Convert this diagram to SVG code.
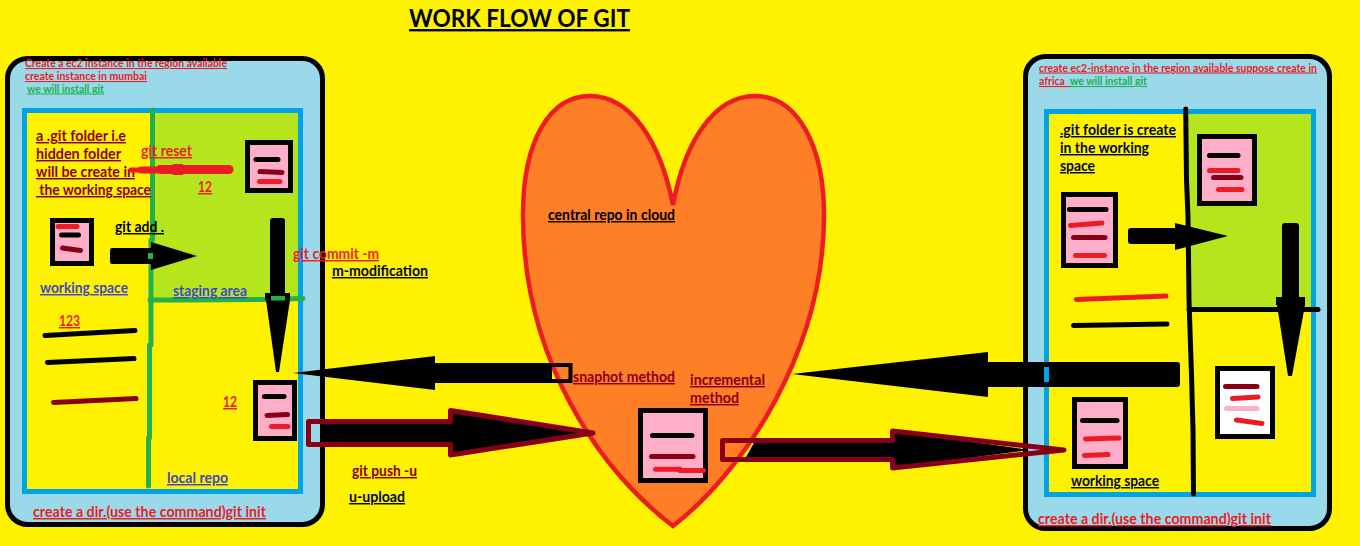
<svg xmlns="http://www.w3.org/2000/svg" width="1360" height="546" viewBox="0 0 1360 546">
<style>
text{font-family:Lato,"Liberation Sans",sans-serif;font-weight:700;font-size:14.5px;text-decoration:underline;white-space:pre}
.s{font-size:10.5px}
.r{fill:#ED1C24}.m{fill:#880015}.b{fill:#3F48CC}.g{fill:#22B14C}.k{fill:#000}.n{fill:#00082a}
.panel{fill:#99D9EA;stroke:#000;stroke-width:5}
.area{fill:#FFF200;stroke:#00A2E8;stroke-width:5}
.doc{fill:#FFAEC9;stroke:#000;stroke-width:5}
.w{fill:#fff}
line,polyline{fill:none;stroke-linecap:round;stroke-linejoin:round}
.l{stroke-width:5}
.kk{stroke:#000}.rr{stroke:#ED1C24}.mm{stroke:#880015}.pp{stroke:#FFAEC9}.gg{stroke:#22B14C}
.push{fill:none;stroke:#880015;stroke-width:5;stroke-linejoin:round}
</style>
<rect width="1360" height="546" fill="#FFF200"/>
<g id="title"><text x="409" y="27" style="font-size:24px" textLength="221" lengthAdjust="spacingAndGlyphs" class="k">WORK FLOW OF GIT</text></g>

<g id="left-instance">
<rect class="panel" x="7.500" y="58.500" width="315" height="466" rx="20"/>
<rect class="area" x="24.500" y="110.500" width="276" height="381"/>
<rect x="152" y="113" width="146" height="186" fill="#B5E61D"/>
<polyline class="gg" points="152.500,110 152.500,240 151,240 151,345 149.500,345 149.500,438 148.500,438 148.500,486" style="stroke-width:5"/>
<polyline class="gg" points="150,300 188,300 265,299.500 303,298.500" style="stroke-width:5"/>
<text class="s r" x="25" y="67" textLength="202" lengthAdjust="spacingAndGlyphs">Create a ec2 instance in the region available</text>
<text class="s r" x="25" y="80" textLength="122" lengthAdjust="spacingAndGlyphs">create instance in mumbai</text>
<text class="s g" x="27" y="92.500" textLength="77" lengthAdjust="spacingAndGlyphs">we will install git</text>
<text class="m" x="36" y="141" textLength="90" lengthAdjust="spacingAndGlyphs">a .git folder i.e</text>
<text class="m" x="36" y="159" textLength="85" lengthAdjust="spacingAndGlyphs">hidden folder</text>
<text class="m" x="36" y="177" textLength="99" lengthAdjust="spacingAndGlyphs">will be create in</text>
<text class="m" x="36" y="195" textLength="115" lengthAdjust="spacingAndGlyphs"> the working space</text>
<text class="b" x="40" y="293" textLength="88" lengthAdjust="spacingAndGlyphs">working space</text>
<text class="b" x="173" y="296" textLength="74" lengthAdjust="spacingAndGlyphs">staging area</text>
<text class="b" x="167" y="483" textLength="61" lengthAdjust="spacingAndGlyphs">local repo</text>
<text class="r" x="33" y="517" textLength="233" lengthAdjust="spacingAndGlyphs">create a dir.(use the command)git init</text>
</g>

<g id="right-instance">
<rect class="panel" x="1025.500" y="56.500" width="304" height="472" rx="20"/>
<rect class="area" x="1046.500" y="111.500" width="267" height="383"/>
<rect x="1187" y="114" width="124" height="195" fill="#B5E61D"/>
<polyline class="kk" points="1185.700,109 1186.500,180 1188,217 1189,300 1190,330 1191.500,375 1193,430 1193.500,494" style="stroke-width:5"/>
<polyline class="kk" points="1189,309.500 1318,309.500" style="stroke-width:5"/>
<text class="s r" x="1039" y="71.500" textLength="278" lengthAdjust="spacingAndGlyphs">create ec2-instance in the region available suppose create in</text>
<text class="s r" x="1039" y="85" textLength="31" lengthAdjust="spacingAndGlyphs">africa  </text>
<text class="s g" x="1070" y="85" textLength="77" lengthAdjust="spacingAndGlyphs">we will install git</text>
<text class="n" x="1060" y="135" textLength="116" lengthAdjust="spacingAndGlyphs">.git folder is create</text>
<text class="n" x="1060" y="153" textLength="89" lengthAdjust="spacingAndGlyphs">in the working</text>
<text class="n" x="1060" y="171" textLength="35" lengthAdjust="spacingAndGlyphs">space</text>
<text class="n" x="1071" y="486" textLength="88" lengthAdjust="spacingAndGlyphs">working space</text>
<text class="r" x="1038" y="524" textLength="233" lengthAdjust="spacingAndGlyphs">create a dir.(use the command)git init</text>
</g>

<g id="central-repo">
<path d="M673,526 C600,470 523,360 523,215 C523,140 550,96 590,96 C630,96 660,140 673,205 C685,140 715,96 755,96 C800,96 824,150 824,215 C824,350 745,470 673,526 Z" fill="#FF7F27" stroke="#ED1C24" stroke-width="4.500"/>
<text class="k" x="548" y="220" textLength="127" lengthAdjust="spacingAndGlyphs">central repo in cloud</text>
<text class="m" x="573" y="382" textLength="102" lengthAdjust="spacingAndGlyphs">snaphot method</text>
<text class="m" x="690" y="385" textLength="75" lengthAdjust="spacingAndGlyphs">incremental</text>
<text class="m" x="690" y="403" textLength="49" lengthAdjust="spacingAndGlyphs">method</text>
</g>

<g id="connectors">
<g id="add-left">
<path d="M110,250 Q110,248 112,248 H151 V242 L197,256 L151,270 V264 H112 Q110,264 110,262 Z"/>
<rect x="148" y="253" width="5" height="6" fill="#22B14C"/>
</g>
<g id="commit-left">
<path d="M270,221 Q270,218 273,218 H282 Q285,218 285,221 V293 H290 V300 L279,372 H276 L266,300 H265 V293 H270 Z"/>
<rect x="271" y="296" width="14" height="4.500" fill="#22B14C"/>
</g>
<g id="reset-left">
<line class="rr" x1="131" y1="170" x2="140" y2="170" style="stroke-width:5"/>
<line class="rr" x1="141" y1="170" x2="156" y2="170" style="stroke-width:7"/>
<line class="rr" x1="160" y1="169.500" x2="229" y2="169.500" style="stroke-width:9"/>
<rect x="173" y="164" width="10" height="11" fill="#ED1C24"/>
</g>
<g id="pull-left">
<path d="M293,373 L435,356 V363 H552 V383 H435 V390 Z"/>
<path d="M550,365 H570.500 V381 H550" fill="none" stroke="#000" stroke-width="4"/>
</g>
<g id="push-left">
<path d="M320,421 H451 V410 L592,433 L451,455 V445 H320 Z"/>
<path class="push" d="M308.500,421.500 H450.500 V410.500 L593,433 L450.500,455 V444.500 H308.500 Z"/>
</g>
<g id="pull-right">
<path d="M792,374 L988,352 V362 H1177 Q1180,362 1180,365 V384 Q1180,387 1177,387 H988 V397 Z"/>
<rect x="1044" y="367" width="5" height="15" fill="#00A2E8"/>
</g>
<g id="push-right">
<path d="M755,441 H893 V431 L1030,450 L893,468 V459 H745 Z"/>
<path class="push" d="M722.500,440.500 H892.500 V431 L1064,450 L892.500,468 V459.500 H722.500 Z"/>
</g>
<g id="add-right">
<path d="M1128,231 Q1128,228 1131,228 H1175 V223 L1228,236 L1175,250 V244 H1131 Q1128,244 1128,241 Z"/>
</g>
<g id="commit-right">
<path d="M1282,226 Q1282,223 1285,223 H1296 Q1299,223 1299,226 V297 H1305 V305 L1292,376 H1288 L1277,305 H1276 V297 H1282 Z"/>
</g>
</g>

<g id="left-doc-working">
<rect class="doc" x="52.500" y="220.500" width="39" height="43"/>
<line class="l rr" x1="58" y1="226.500" x2="77" y2="226.500"/>
<line class="l kk" x1="61.500" y1="235" x2="78.500" y2="235"/>
<line class="l mm" x1="62.500" y1="248" x2="80.500" y2="250.500"/>
</g>
<g id="left-doc-staging">
<rect class="doc" x="247.500" y="142.500" width="43" height="48"/>
<line class="l kk" x1="256" y1="159.500" x2="278" y2="159.500"/>
<line class="l mm" x1="260" y1="171.500" x2="282" y2="172.500"/>
<line class="l rr" x1="259.500" y1="181.500" x2="280" y2="181.500"/>
<text class="r" x="198" y="192" textLength="14" lengthAdjust="spacingAndGlyphs">12</text>
</g>
<g id="left-scribbles">
<line class="l kk" x1="45" y1="335.500" x2="135" y2="330.500"/>
<line class="l kk" x1="47.500" y1="362.500" x2="134" y2="358.500"/>
<line class="l mm" x1="53.500" y1="402.500" x2="136" y2="398.500"/>
<text class="r" x="59" y="326" textLength="21" lengthAdjust="spacingAndGlyphs">123</text>
</g>
<g id="left-doc-local">
<rect class="doc" x="255.500" y="382.500" width="39" height="56"/>
<line class="l kk" x1="264.500" y1="396.500" x2="284" y2="396.500"/>
<line class="l mm" x1="267" y1="415.500" x2="287.500" y2="414.500"/>
<line class="l rr" x1="271.500" y1="426.500" x2="288" y2="426.500"/>
<text class="r" x="223" y="407" textLength="14" lengthAdjust="spacingAndGlyphs">12</text>
</g>
<g id="central-doc">
<rect class="doc" x="640.500" y="410.500" width="65" height="70"/>
<line class="l kk" x1="652.500" y1="435.500" x2="692" y2="435.500"/>
<line class="l mm" x1="651.500" y1="456.500" x2="693" y2="456.500"/>
<line class="l rr" x1="655.500" y1="469.300" x2="680" y2="469.300"/>
<line class="l rr" x1="680" y1="470.600" x2="703.500" y2="470.600"/>
</g>
<g id="right-doc-working-top">
<rect class="doc" x="1063.500" y="194.500" width="52" height="71"/>
<line class="l kk" x1="1069.500" y1="209.500" x2="1106" y2="209.500"/>
<line class="l rr" x1="1070.500" y1="225.500" x2="1102" y2="223"/>
<line class="l mm" x1="1073.500" y1="237.500" x2="1105" y2="237.500"/>
<line class="l rr" x1="1075.500" y1="255.500" x2="1104.500" y2="255.500"/>
</g>
<g id="right-doc-staging">
<rect class="doc" x="1199.500" y="136.500" width="55" height="67"/>
<line class="l kk" x1="1209.500" y1="155.500" x2="1238" y2="155.500"/>
<line class="l rr" x1="1209.500" y1="170.500" x2="1238" y2="170.500"/>
<line class="l mm" x1="1213.500" y1="177.500" x2="1241" y2="177.500"/>
<line class="l rr" x1="1218.500" y1="189.500" x2="1242" y2="189.500"/>
</g>
<g id="right-scribbles">
<line class="l rr" x1="1076.500" y1="299.500" x2="1166" y2="296"/>
<line class="l kk" x1="1073.500" y1="325.500" x2="1167" y2="324"/>
</g>
<g id="right-doc-local">
<rect class="doc w" x="1217.500" y="368.500" width="55" height="68"/>
<line class="l mm" x1="1225.500" y1="386.500" x2="1257" y2="386.500"/>
<line class="l rr" x1="1232.500" y1="398.500" x2="1258" y2="397"/>
<line class="l pp" x1="1226.500" y1="408.500" x2="1257" y2="408.500"/>
<line class="l rr" x1="1236.500" y1="420" x2="1262" y2="423.500"/>
</g>
<g id="right-doc-working-bottom">
<rect class="doc" x="1074.500" y="399.500" width="51" height="67"/>
<line class="l kk" x1="1082.500" y1="420.500" x2="1117" y2="420.500"/>
<line class="l rr" x1="1085.500" y1="439" x2="1119" y2="438"/>
<line class="l rr" x1="1084.500" y1="455.500" x2="1108" y2="454.500"/>
</g>
<g id="labels">
<text class="r" x="141" y="156" textLength="51" lengthAdjust="spacingAndGlyphs">git reset</text>
<text class="k" x="115" y="232" textLength="49" lengthAdjust="spacingAndGlyphs">git add .</text>
<text class="r" x="293" y="259" textLength="86" lengthAdjust="spacingAndGlyphs">git commit -m</text>
<text class="n" x="332" y="276" textLength="96" lengthAdjust="spacingAndGlyphs">m-modification</text>
<text class="m" x="352" y="476" textLength="65" lengthAdjust="spacingAndGlyphs">git push -u</text>
<text class="n" x="349" y="502" textLength="56" lengthAdjust="spacingAndGlyphs">u-upload</text>
</g>
</svg>
